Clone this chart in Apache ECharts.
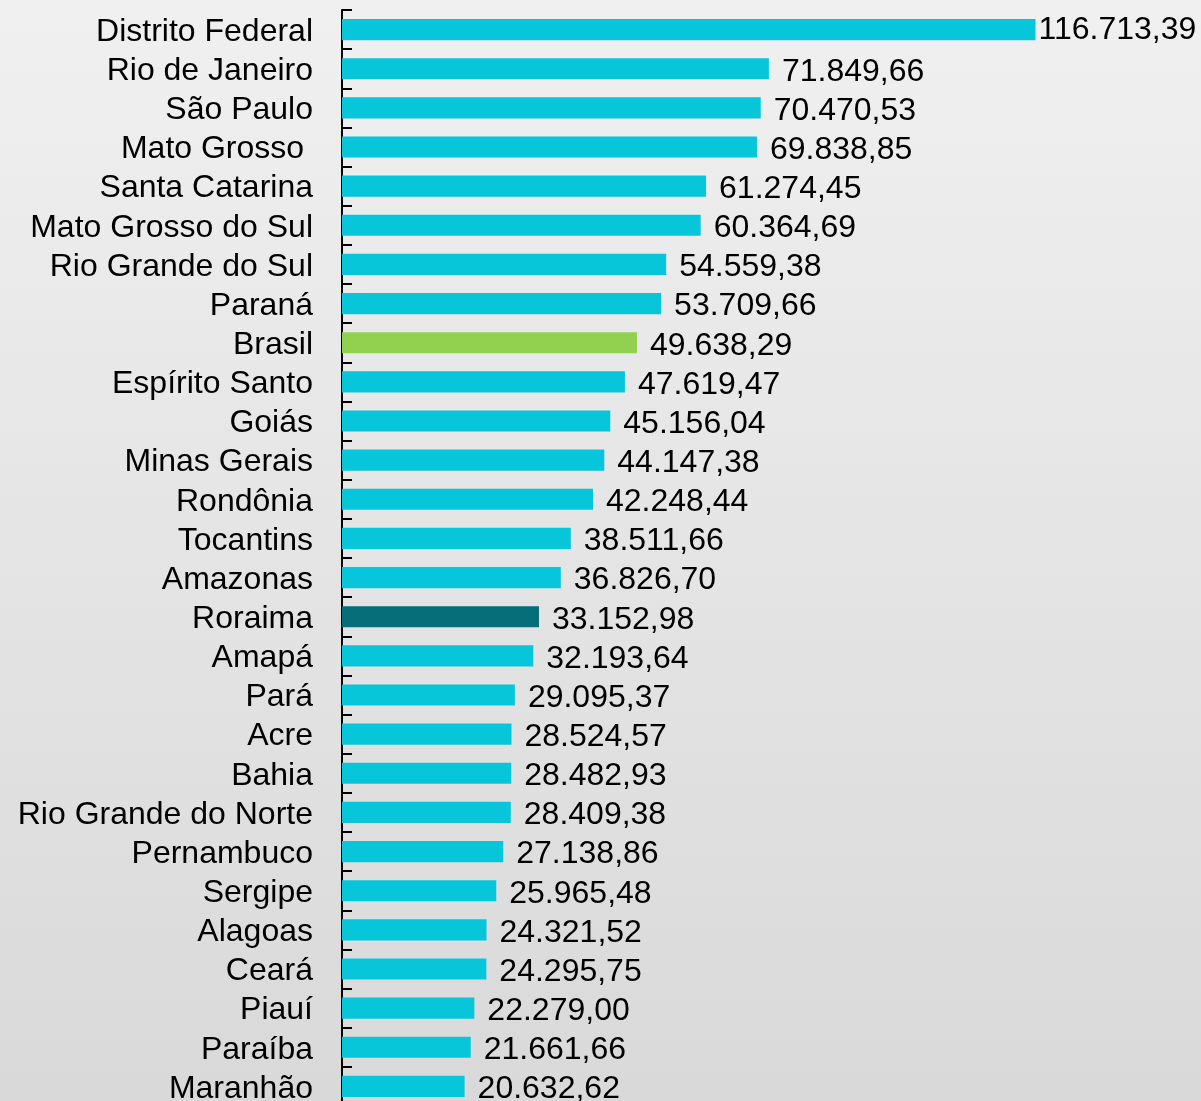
<!DOCTYPE html>
<html>
<head>
<meta charset="utf-8">
<script src="https://cdn.jsdelivr.net/npm/echarts@6/dist/echarts.min.js"></script>
<style>
  html, body { margin: 0; padding: 0; }
  #main { width: 1201px; height: 1101px; }
</style>
</head>
<body>
<div id="main"></div>
<script>
var estados = ['Distrito Federal', 'Rio de Janeiro', 'São Paulo', 'Mato Grosso ', 'Santa Catarina',
    'Mato Grosso do Sul', 'Rio Grande do Sul', 'Paraná', 'Brasil', 'Espírito Santo', 'Goiás',
    'Minas Gerais', 'Rondônia', 'Tocantins', 'Amazonas', 'Roraima', 'Amapá', 'Pará', 'Acre',
    'Bahia', 'Rio Grande do Norte', 'Pernambuco', 'Sergipe', 'Alagoas', 'Ceará', 'Piauí',
    'Paraíba', 'Maranhão'];
var pibPerCapita = [116713.39, 71849.66, 70470.53, 69838.85, 61274.45, 60364.69, 54559.38,
    53709.66, 49638.29, 47619.47, 45156.04, 44147.38, 42248.44, 38511.66, 36826.70, 33152.98,
    32193.64, 29095.37, 28524.57, 28482.93, 28409.38, 27138.86, 25965.48, 24321.52, 24295.75,
    22279.00, 21661.66, 20632.62];

var corPadrao = '#08C6D9';
var corBrasil = '#92D050';
var corRoraima = '#056E78';

// formato brasileiro: 116.713,39
function formatar(v) {
    var partes = v.toFixed(2).split('.');
    var inteiro = partes[0].replace(/\B(?=(\d{3})+(?!\d))/g, '.');
    return inteiro + ',' + partes[1];
}

var dados = pibPerCapita.map(function (v, i) {
    var cor = corPadrao;
    if (estados[i] === 'Brasil') cor = corBrasil;
    if (estados[i] === 'Roraima') cor = corRoraima;
    var item = { value: v, itemStyle: { color: cor } };
    if (i === 0) item.label = { distance: 3, offset: [0, 1] };
    return item;
});

var myChart = echarts.init(document.getElementById('main'));
var option = {
    backgroundColor: {
        type: 'linear', x: 0, y: 0, x2: 0, y2: 1,
        colorStops: [
            { offset: 0, color: '#f0f0f0' },
            { offset: 1, color: '#d9d9d9' }
        ]
    },
    textStyle: { fontFamily: 'Liberation Sans, Arial, sans-serif' },
    grid: { left: 342, width: 713, top: 10, height: 1096, containLabel: false, outerBoundsMode: 'none' },
    xAxis: {
        type: 'value',
        min: 0,
        max: 120000,
        show: false
    },
    yAxis: {
        type: 'category',
        data: estados,
        inverse: true,
        axisLine: { show: true, lineStyle: { color: '#000', width: 2 } },
        axisTick: { show: true, inside: true, length: 10, lineStyle: { color: '#000', width: 2 } },
        axisLabel: {
            color: '#000', fontSize: 32, margin: 29, interval: 0,
            formatter: function (v) { return '{n|' + v + '}'; },
            rich: { n: { fontSize: 32, color: '#000', padding: [5, 0, 0, 0] } }
        }
    },
    series: [{
        type: 'bar',
        barWidth: '54%',
        data: dados,
        label: {
            show: true,
            position: 'right',
            distance: 13,
            offset: [0, 3],
            color: '#000',
            fontSize: 32,
            formatter: function (p) { return formatar(p.value); }
        }
    }]
};
myChart.setOption(option);
</script>
</body>
</html>
